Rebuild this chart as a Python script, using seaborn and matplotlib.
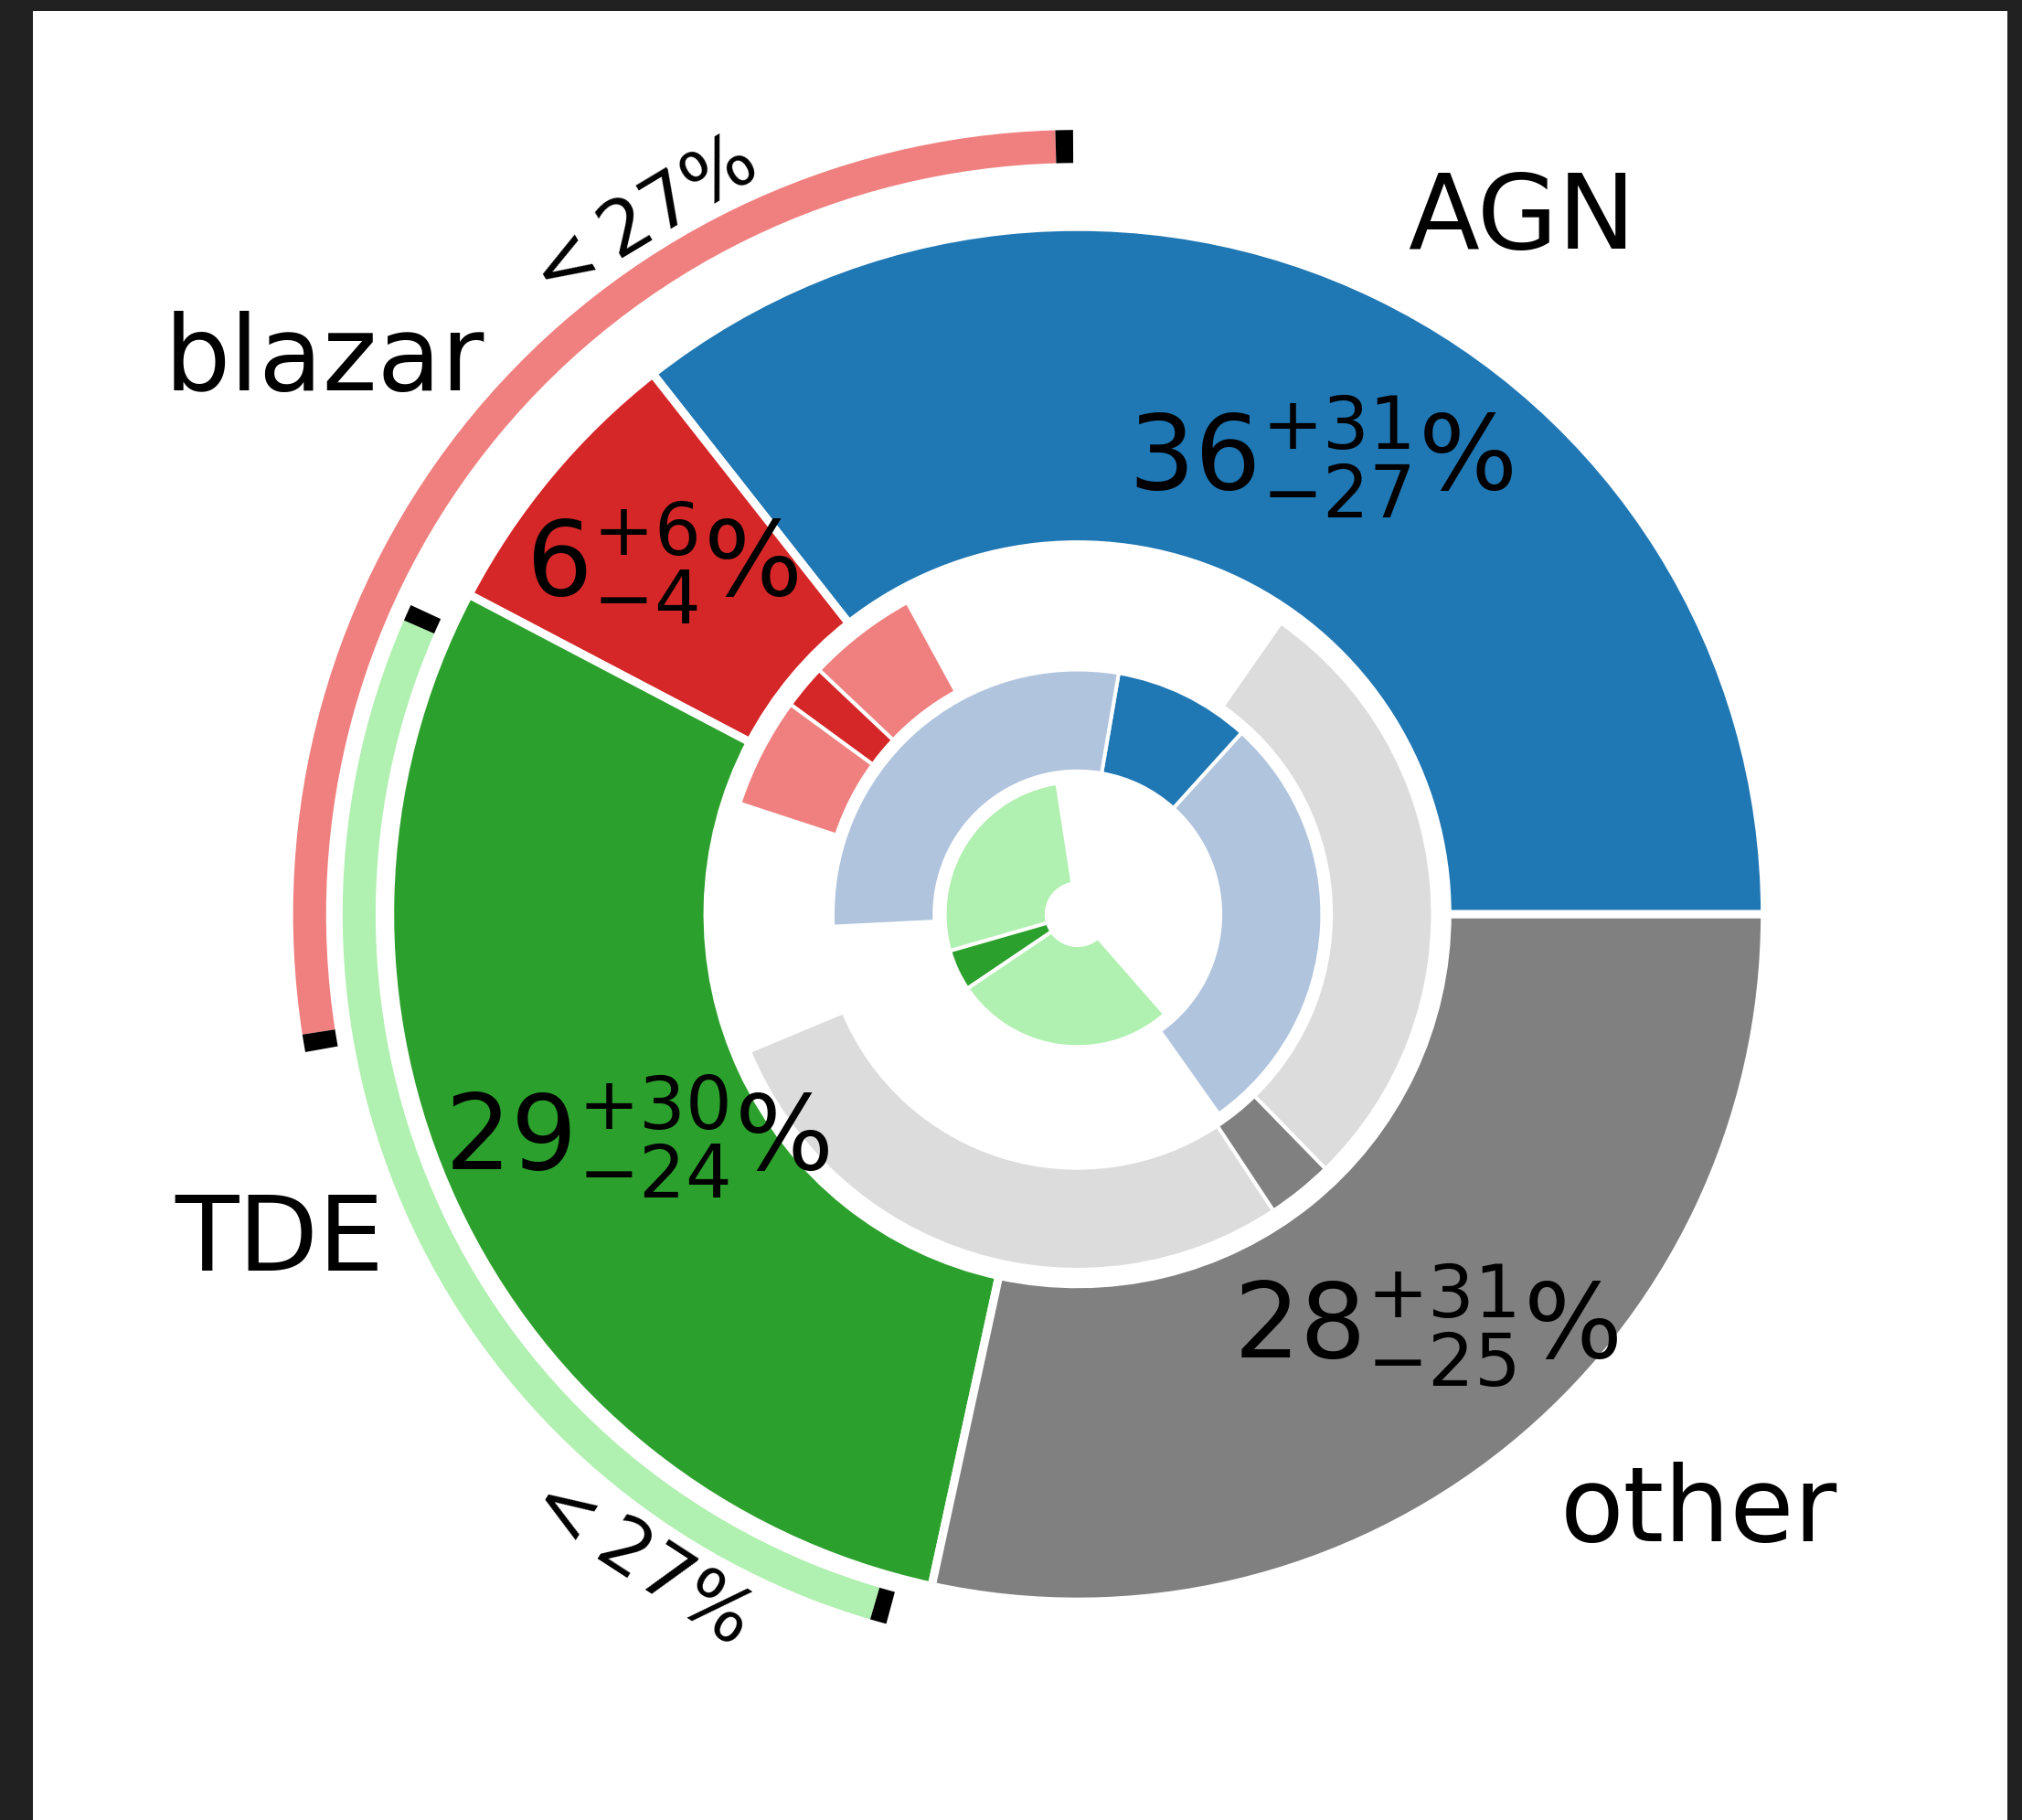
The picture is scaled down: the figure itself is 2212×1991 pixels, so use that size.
import numpy as np
import matplotlib.pyplot as plt
from matplotlib.patches import Wedge, Rectangle
import seaborn as sns

sns.set_style('white')
plt.rcParams['font.family'] = ['DejaVu Sans']
plt.rcParams['mathtext.fontset'] = 'dejavusans'
plt.rcParams['text.color'] = 'black'

# data
classes = ['AGN', 'blazar', 'TDE', 'other']
best = [35.6, 6.7, 29.3, 28.4]      # best-fit fraction (%)
lower = [9, 2, 5, 3]                # lower end of the range (%)
upper = [66, 12, 59, 59]            # upper end of the range (%)
pct_labels = [r'$36^{+31}_{-27}\%$', r'$6^{+6}_{-4}\%$',
              r'$29^{+30}_{-24}\%$', r'$28^{+31}_{-25}\%$']
limit_classes = ['blazar', 'TDE']
limits = [27, 27]                   # upper limits (%)

dark = ['#1f77b4', '#d62728', '#2ca02c', '#808080']
light = ['#b0c4de', '#f08080', '#b0f0b0', '#dcdcdc']

# which inner ring each class goes into (0 = innermost)
ring_of = {'AGN': 1, 'blazar': 2, 'TDE': 0, 'other': 2}
ring_outer = [0.193, 0.356, 0.517]
ring_width = 0.148
arc_outer = {'blazar': 1.141, 'TDE': 1.069}
arc_width = 0.048

fig = plt.figure(figsize=(22.12, 19.91), dpi=100, facecolor='#212121')
fig.add_artist(Rectangle((36/2212, 0), 2160/2212, 1979/1991, transform=fig.transFigure,
                         facecolor='white', edgecolor='none', zorder=-1))
ax = fig.add_axes([36/2212, 0, 2160/2212, 1979/1991])

# outer ring: best values
ax.pie(best, colors=dark, startangle=0, counterclock=True, radius=1.0,
       wedgeprops=dict(width=0.462, edgecolor='white', linewidth=6.5))

edges = np.concatenate([[0], np.cumsum(best)]) / np.sum(best) * 360
mids = (edges[:-1] + edges[1:]) / 2

# inner rings: lower bound (dark) inside upper bound (light), centred on the wedge
for i, name in enumerate(classes):
    r = ring_outer[ring_of[name]]
    lo = lower[i] * 1.8
    hi = upper[i] * 1.8
    m = mids[i]
    kw = dict(width=ring_width, edgecolor='white', linewidth=2.9)
    ax.add_patch(Wedge((0, 0), r, m - hi, m - lo, facecolor=light[i], **kw))
    ax.add_patch(Wedge((0, 0), r, m - lo, m + lo, facecolor=dark[i], **kw))
    ax.add_patch(Wedge((0, 0), r, m + lo, m + hi, facecolor=light[i], **kw))

# upper limits as arcs outside
for name, lim in zip(limit_classes, limits):
    i = classes.index(name)
    half = lim * 1.8
    r = arc_outer[name]
    ax.add_patch(Wedge((0, 0), r, mids[i] - half, mids[i] + half, width=arc_width,
                       facecolor=light[i], edgecolor='none'))
    for a in (mids[i] - half - 1.3, mids[i] + half):
        ax.add_patch(Wedge((0, 0), r, a, a + 1.3, width=arc_width,
                           facecolor='black', edgecolor='none'))

name_pos = [(0.646, 0.968), (-1.095, 0.762), (-1.161, -0.518), (0.904, -0.912)]
for name, (x, y) in zip(classes, name_pos):
    ax.text(x, y, name, ha='center', va='baseline', fontsize=82)

pct_pos = [(0.354, 0.617), (-0.605, 0.463), (-0.641, -0.371), (0.507, -0.645)]
for lab, (x, y) in zip(pct_labels, pct_pos):
    ax.text(x, y, lab, ha='center', va='baseline', fontsize=82)

limit_pos = [(-0.640, 1.004, 31), (-0.645, -0.935, -33)]
for lim, (x, y, rot) in zip(limits, limit_pos):
    ax.text(x, y, rf'$<{lim}\%$', ha='center', va='center', rotation=rot,
            rotation_mode='anchor', fontsize=60)

ax.set_xlim(-1.5195, 1.3528)
ax.set_ylim(-1.3176, 1.3141)
ax.set_aspect('equal')
ax.axis('off')

fig.savefig('out.png', dpi=100, facecolor=fig.get_facecolor())
